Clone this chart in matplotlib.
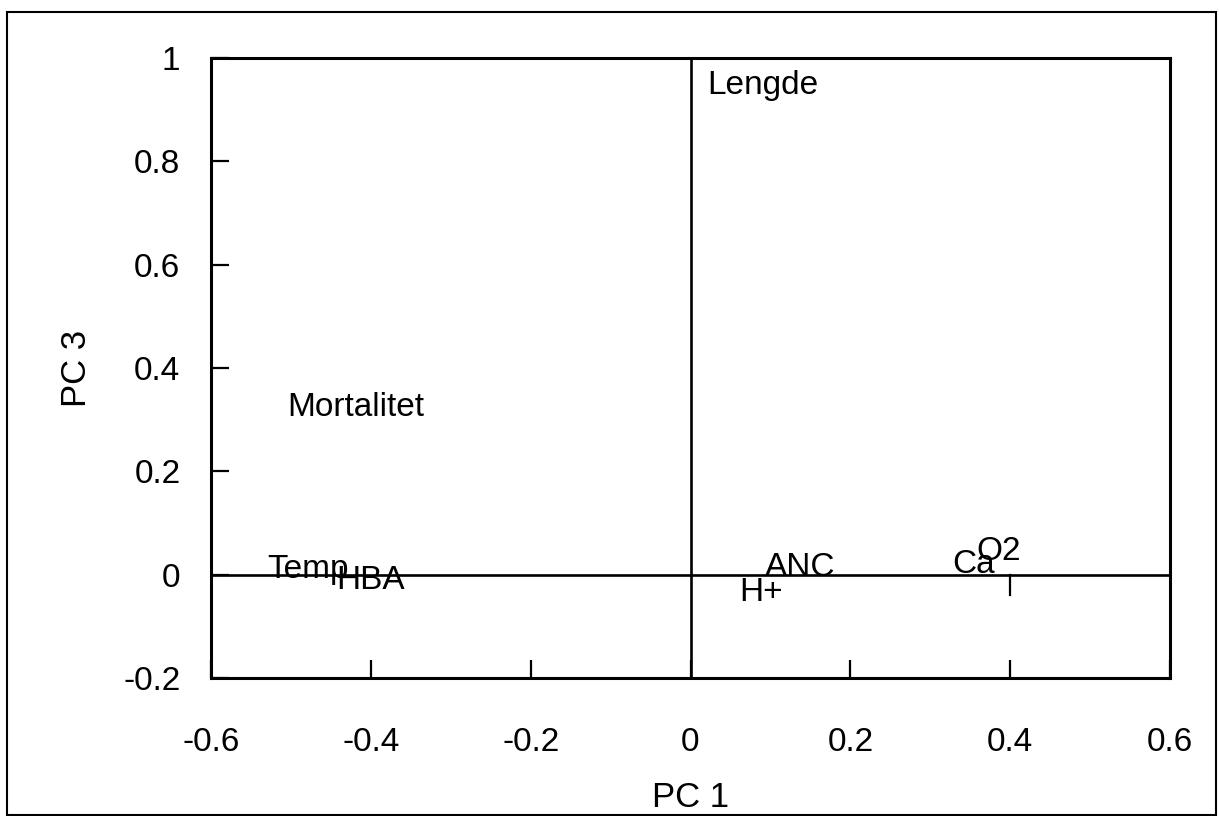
import matplotlib
matplotlib.use("Agg")
import matplotlib.pyplot as plt
from matplotlib.patches import Rectangle

plt.rcParams['font.family'] = ['Liberation Sans', 'DejaVu Sans']

# Loadings (PC 1, PC 3): text anchor positions
labels = ["Lengde", "Mortalitet", "Temp", "HBA", "ANC", "H+", "Ca", "O2"]
pc1 = [0.021, -0.504, -0.530, -0.443, 0.093, 0.061, 0.327, 0.358]
pc3 = [0.947, 0.323, 0.010, -0.012, 0.014, -0.035, 0.019, 0.044]

xticks = [-0.6, -0.4, -0.2, 0, 0.2, 0.4, 0.6]
yticks = [-0.2, 0, 0.2, 0.4, 0.6, 0.8, 1]
xticklabels = ["-0.6", "-0.4", "-0.2", "0", "0.2", "0.4", "0.6"]
yticklabels = ["-0.2", "0", "0.2", "0.4", "0.6", "0.8", "1"]

fig = plt.figure(figsize=(12.19, 8.16), dpi=100)
ax = fig.add_axes([211/1219, 1-678/816, 959/1219, 620/816])

ax.set_xlim(-0.6, 0.6)
ax.set_ylim(-0.2, 1.0)
for s in ax.spines.values():
    s.set_linewidth(2.2)
    s.set_color('black')

ax.axhline(0, color='black', lw=1.9)
ax.axvline(0, color='black', lw=1.9)

ax.set_xticks(xticks)
ax.set_xticklabels(xticklabels)
ax.set_yticks(yticks)
ax.set_yticklabels(yticklabels)
ax.tick_params(direction='in', length=13, width=1.6, labelsize=24)
ax.tick_params(axis='x', pad=35)
ax.tick_params(axis='y', pad=22)

# small tick on the zero line at 0.4
ax.plot([0.4, 0.4], [0, -0.04], color='black', lw=1.6)

for lab, x, y in zip(labels, pc1, pc3):
    ax.text(x, y, lab, fontsize=24, ha='left', va='center', color='black')

ax.set_xlabel("PC 1", fontsize=25, labelpad=17)
ax.set_ylabel("PC 3", fontsize=25, labelpad=22)

fig.patches.append(Rectangle((7/1219, 1-815/816), 1209/1219, 803/816,
                             transform=fig.transFigure, fill=False,
                             edgecolor='black', lw=1.5))

fig.savefig("out.png", dpi=100)
